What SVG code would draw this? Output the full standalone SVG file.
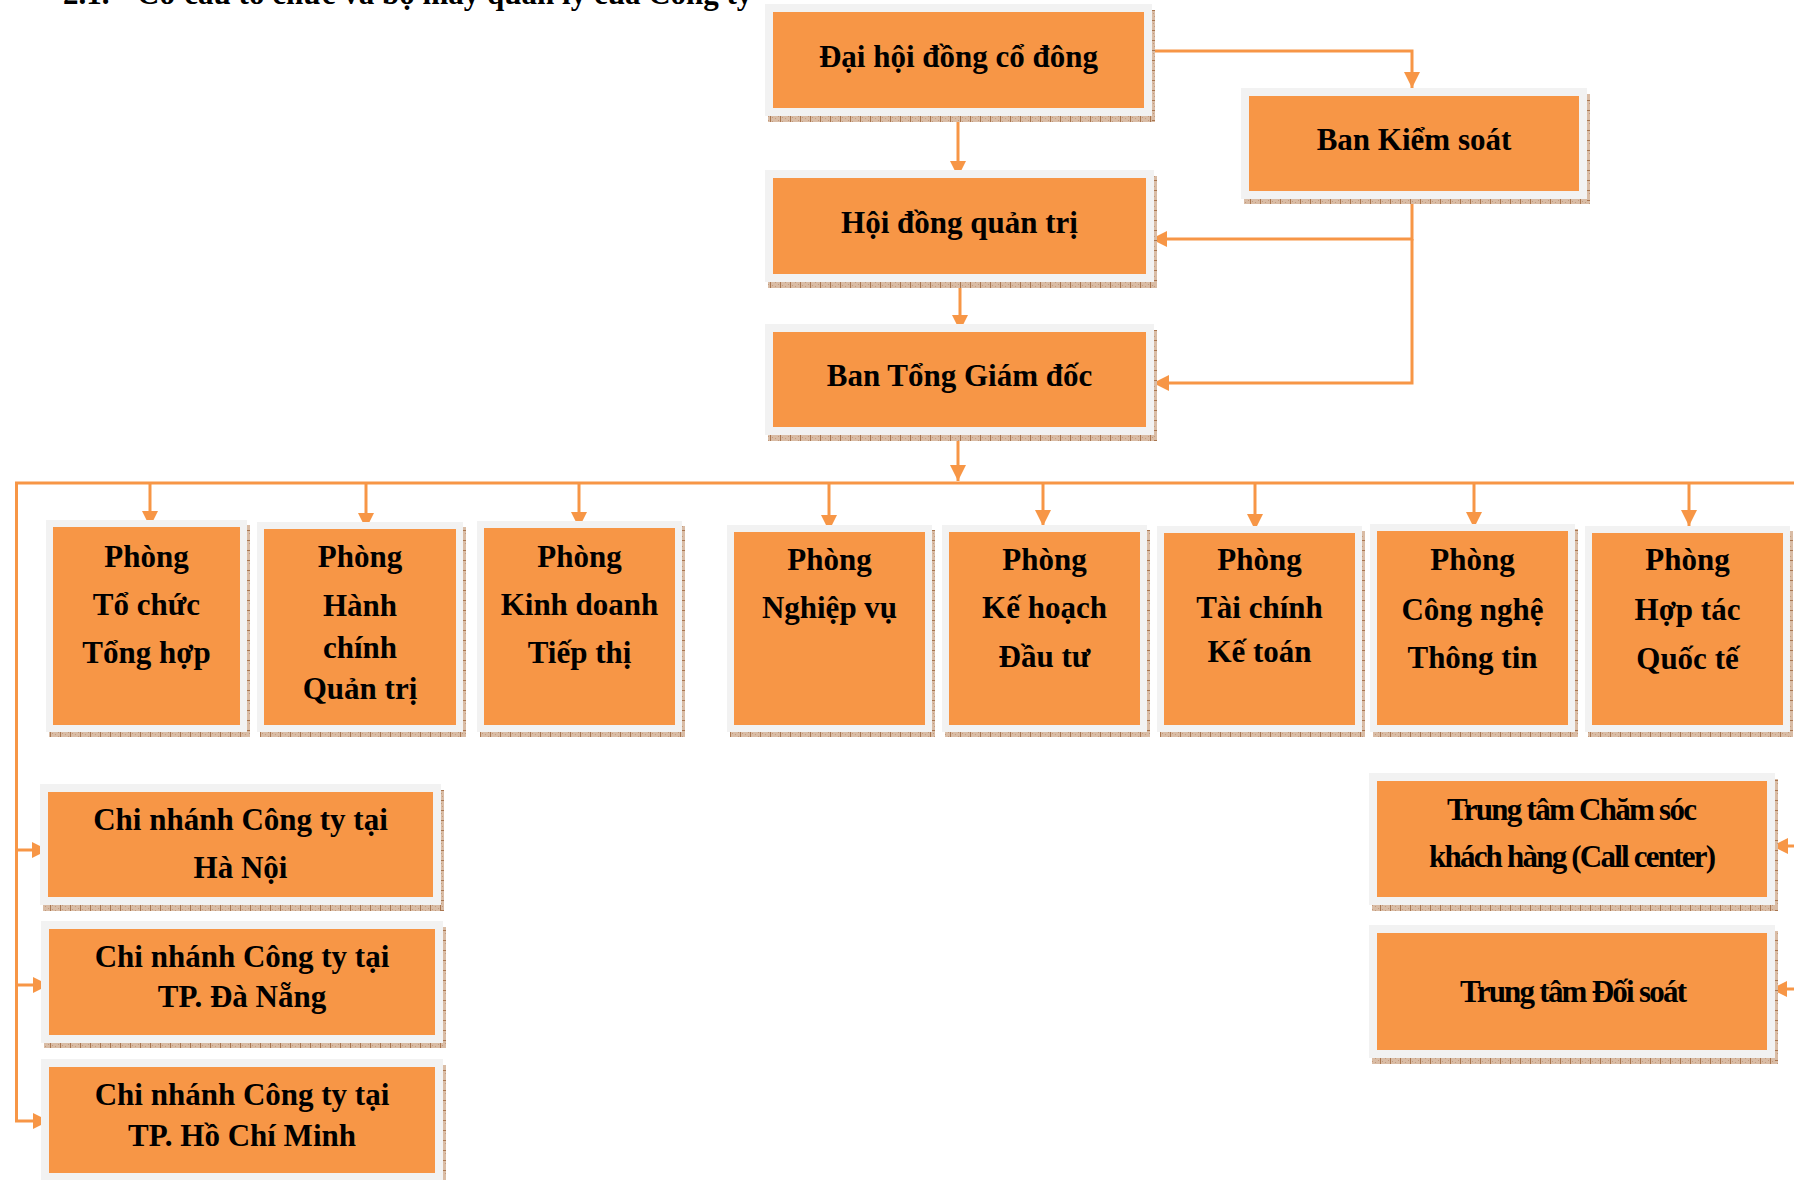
<svg xmlns="http://www.w3.org/2000/svg" width="1794" height="1180" viewBox="0 0 1794 1180">
<style>
.frame{fill:#F2F2F2}
.box{fill:#F79646}
.sb{fill:url(#shB)}
.sr{fill:url(#shR)}
.t{font-family:"Liberation Serif","Times New Roman",serif;font-weight:bold;font-size:31px;fill:#000;text-anchor:middle}
.title{font-family:"Liberation Serif","Times New Roman",serif;font-weight:bold;font-size:31px;fill:#000}
.conn{stroke:#F79646;stroke-width:3;fill:none}
.arr{stroke:#F79646;stroke-width:3;fill:none;marker-end:url(#ah)}
</style>
<defs>
<marker id="ah" markerUnits="userSpaceOnUse" markerWidth="17" markerHeight="17" refX="16" refY="8" orient="auto">
<path d="M0,0 L16,8 L0,16 z" fill="#F79646"/>
</marker>
<pattern id="shB" patternUnits="userSpaceOnUse" width="10" height="4">
<rect width="10" height="4" fill="#D9BCA5"/>
<rect x="2" y="1" width="1" height="1" fill="#C49A7B"/>
<rect x="5" y="2" width="1" height="1" fill="#C49A7B"/>
<rect x="8" y="0" width="1" height="1" fill="#C49A7B"/>
<rect x="0" y="0" width="1" height="4" fill="#A97650"/>
</pattern>
<pattern id="shR" patternUnits="userSpaceOnUse" width="4" height="10">
<rect width="4" height="10" fill="#D9BCA5"/>
<rect x="1" y="3" width="1" height="1" fill="#C49A7B"/>
<rect x="2" y="6" width="1" height="1" fill="#C49A7B"/>
<rect x="0" y="0" width="4" height="1" fill="#A97650"/>
</pattern>
</defs>
<rect width="1794" height="1180" fill="#FFFFFF"/>

<g id="title">
<text class="title" x="63" y="4">2.1.</text>
<text class="title" x="137" y="4">Cơ cấu tổ chức và bộ máy quản lý của Công ty</text>
</g>

<g id="connectors">
<polyline class="arr" points="1152,51 1412,51 1412,88"/>
<line class="arr" x1="958" y1="121" x2="958" y2="177"/>
<polyline class="arr" points="1412,204 1412,239 1151,239"/>
<polyline class="arr" points="1412,239 1412,383 1153,383"/>
<line class="arr" x1="960" y1="287" x2="960" y2="331"/>
<line class="arr" x1="958" y1="440" x2="958" y2="481"/>
<line class="conn" x1="15" y1="483" x2="1794" y2="483"/>
<line class="conn" x1="16.5" y1="483" x2="16.5" y2="1121"/>
<line class="arr" x1="150" y1="483" x2="150" y2="527"/>
<line class="arr" x1="366" y1="483" x2="366" y2="529"/>
<line class="arr" x1="579" y1="483" x2="579" y2="528"/>
<line class="arr" x1="829" y1="483" x2="829" y2="531"/>
<line class="arr" x1="1043" y1="483" x2="1043" y2="526"/>
<line class="arr" x1="1255" y1="483" x2="1255" y2="530"/>
<line class="arr" x1="1474" y1="483" x2="1474" y2="528"/>
<line class="arr" x1="1689" y1="483" x2="1689" y2="526"/>
<line class="arr" x1="15" y1="850" x2="48" y2="850"/>
<line class="arr" x1="15" y1="985" x2="49" y2="985"/>
<polyline class="arr" points="16.5,1119 16.5,1121 49,1121"/>
<line class="arr" x1="1796" y1="846" x2="1772" y2="846"/>
<line class="arr" x1="1796" y1="989" x2="1771" y2="989"/>
</g>

<g id="n-dhdcd">
<rect class="sb" x="768" y="116" width="387" height="6"/>
<rect class="sr" x="1152" y="10" width="3" height="112"/>
<rect class="frame" x="765" y="4" width="387" height="112"/>
<rect class="box" x="773" y="12" width="371" height="96"/>
<text class="t" x="958.5" y="67">Đại hội đồng cổ đông</text>
</g>

<g id="n-bks">
<rect class="sb" x="1244" y="199" width="346" height="5"/>
<rect class="sr" x="1587" y="94" width="3" height="110"/>
<rect class="frame" x="1241" y="88" width="346" height="111"/>
<rect class="box" x="1249" y="96" width="330" height="95"/>
<text class="t" x="1414" y="150">Ban Kiểm soát</text>
</g>

<g id="n-hdqt">
<rect class="sb" x="768" y="282" width="389" height="6"/>
<rect class="sr" x="1154" y="176" width="3" height="112"/>
<rect class="frame" x="765" y="170" width="389" height="112"/>
<rect class="box" x="773" y="178" width="373" height="96"/>
<text class="t" x="959.5" y="233">Hội đồng quản trị</text>
</g>

<g id="n-btgd">
<rect class="sb" x="768" y="435" width="389" height="6"/>
<rect class="sr" x="1154" y="330" width="3" height="111"/>
<rect class="frame" x="765" y="324" width="389" height="111"/>
<rect class="box" x="773" y="332" width="373" height="95"/>
<text class="t" x="959.5" y="386">Ban Tổng Giám đốc</text>
</g>

<g id="d-tochuc">
<rect class="sb" x="49" y="732" width="201" height="5"/>
<rect class="sr" x="247" y="525" width="3" height="212"/>
<rect class="frame" x="46" y="520" width="201" height="212"/>
<rect class="box" x="53" y="527" width="187" height="198"/>
<text class="t" x="146.5" y="567">Phòng</text>
<text class="t" x="146.5" y="615">Tổ chức</text>
<text class="t" x="146.5" y="663">Tổng hợp</text>
</g>

<g id="d-hanhchinh">
<rect class="sb" x="260" y="732" width="206" height="5"/>
<rect class="sr" x="463" y="527" width="3" height="210"/>
<rect class="frame" x="257" y="522" width="206" height="210"/>
<rect class="box" x="264" y="529" width="192" height="196"/>
<text class="t" x="360" y="567">Phòng</text>
<text class="t" x="360" y="616">Hành</text>
<text class="t" x="360" y="658">chính</text>
<text class="t" x="360" y="699">Quản trị</text>
</g>

<g id="d-kinhdoanh">
<rect class="sb" x="480" y="732" width="205" height="5"/>
<rect class="sr" x="682" y="526" width="3" height="211"/>
<rect class="frame" x="477" y="521" width="205" height="211"/>
<rect class="box" x="484" y="528" width="191" height="197"/>
<text class="t" x="579.5" y="567">Phòng</text>
<text class="t" x="579.5" y="615">Kinh doanh</text>
<text class="t" x="579.5" y="663">Tiếp thị</text>
</g>

<g id="d-nghiepvu">
<rect class="sb" x="730" y="732" width="205" height="5"/>
<rect class="sr" x="932" y="530" width="3" height="207"/>
<rect class="frame" x="727" y="525" width="205" height="207"/>
<rect class="box" x="734" y="532" width="191" height="193"/>
<text class="t" x="829.5" y="570">Phòng</text>
<text class="t" x="829.5" y="618">Nghiệp vụ</text>
</g>

<g id="d-kehoach">
<rect class="sb" x="945" y="732" width="205" height="5"/>
<rect class="sr" x="1147" y="530" width="3" height="207"/>
<rect class="frame" x="942" y="525" width="205" height="207"/>
<rect class="box" x="949" y="532" width="191" height="193"/>
<text class="t" x="1044.5" y="570">Phòng</text>
<text class="t" x="1044.5" y="618">Kế hoạch</text>
<text class="t" x="1044.5" y="667">Đầu tư</text>
</g>

<g id="d-taichinh">
<rect class="sb" x="1160" y="732" width="205" height="5"/>
<rect class="sr" x="1362" y="531" width="3" height="206"/>
<rect class="frame" x="1157" y="526" width="205" height="206"/>
<rect class="box" x="1164" y="533" width="191" height="192"/>
<text class="t" x="1259.5" y="570">Phòng</text>
<text class="t" x="1259.5" y="618">Tài chính</text>
<text class="t" x="1259.5" y="662">Kế toán</text>
</g>

<g id="d-congnghe">
<rect class="sb" x="1373" y="732" width="205" height="5"/>
<rect class="sr" x="1575" y="529" width="3" height="208"/>
<rect class="frame" x="1370" y="524" width="205" height="208"/>
<rect class="box" x="1377" y="531" width="191" height="194"/>
<text class="t" x="1472.5" y="570">Phòng</text>
<text class="t" x="1472.5" y="620">Công nghệ</text>
<text class="t" x="1472.5" y="668">Thông tin</text>
</g>

<g id="d-hoptac">
<rect class="sb" x="1588" y="732" width="205" height="5"/>
<rect class="sr" x="1790" y="531" width="3" height="206"/>
<rect class="frame" x="1585" y="526" width="205" height="206"/>
<rect class="box" x="1592" y="533" width="191" height="192"/>
<text class="t" x="1687.5" y="570">Phòng</text>
<text class="t" x="1687.5" y="620">Hợp tác</text>
<text class="t" x="1687.5" y="669">Quốc tế</text>
</g>

<g id="b-hanoi">
<rect class="sb" x="43" y="905" width="401" height="6"/>
<rect class="sr" x="441" y="790" width="3" height="121"/>
<rect class="frame" x="40" y="784" width="401" height="121"/>
<rect class="box" x="48" y="792" width="385" height="105"/>
<text class="t" x="240.5" y="830">Chi nhánh Công ty tại</text>
<text class="t" x="240.5" y="878">Hà Nội</text>
</g>

<g id="b-danang">
<rect class="sb" x="44" y="1043" width="402" height="5"/>
<rect class="sr" x="443" y="927" width="3" height="121"/>
<rect class="frame" x="41" y="921" width="402" height="122"/>
<rect class="box" x="49" y="929" width="386" height="106"/>
<text class="t" x="242" y="967">Chi nhánh Công ty tại</text>
<text class="t" x="242" y="1007">TP. Đà Nẵng</text>
</g>

<g id="b-hcm">
<rect class="sr" x="443" y="1065" width="3" height="121"/>
<rect class="frame" x="41" y="1059" width="402" height="122"/>
<rect class="box" x="49" y="1067" width="386" height="106"/>
<text class="t" x="242" y="1105">Chi nhánh Công ty tại</text>
<text class="t" x="242" y="1146">TP. Hồ Chí Minh</text>
</g>

<g id="c-callcenter">
<rect class="sb" x="1372" y="905" width="406" height="6"/>
<rect class="sr" x="1775" y="779" width="3" height="132"/>
<rect class="frame" x="1369" y="773" width="406" height="132"/>
<rect class="box" x="1377" y="781" width="390" height="116"/>
<text class="t" x="1572" y="820" textLength="250" lengthAdjust="spacing">Trung tâm Chăm sóc</text>
<text class="t" x="1572.5" y="867" textLength="287" lengthAdjust="spacing">khách hàng (Call center)</text>
</g>

<g id="c-doisoat">
<rect class="sb" x="1372" y="1058" width="406" height="6"/>
<rect class="sr" x="1775" y="931" width="3" height="133"/>
<rect class="frame" x="1369" y="925" width="406" height="133"/>
<rect class="box" x="1377" y="933" width="390" height="117"/>
<text class="t" x="1573.5" y="1002" textLength="227" lengthAdjust="spacing">Trung tâm Đối soát</text>
</g>
</svg>
